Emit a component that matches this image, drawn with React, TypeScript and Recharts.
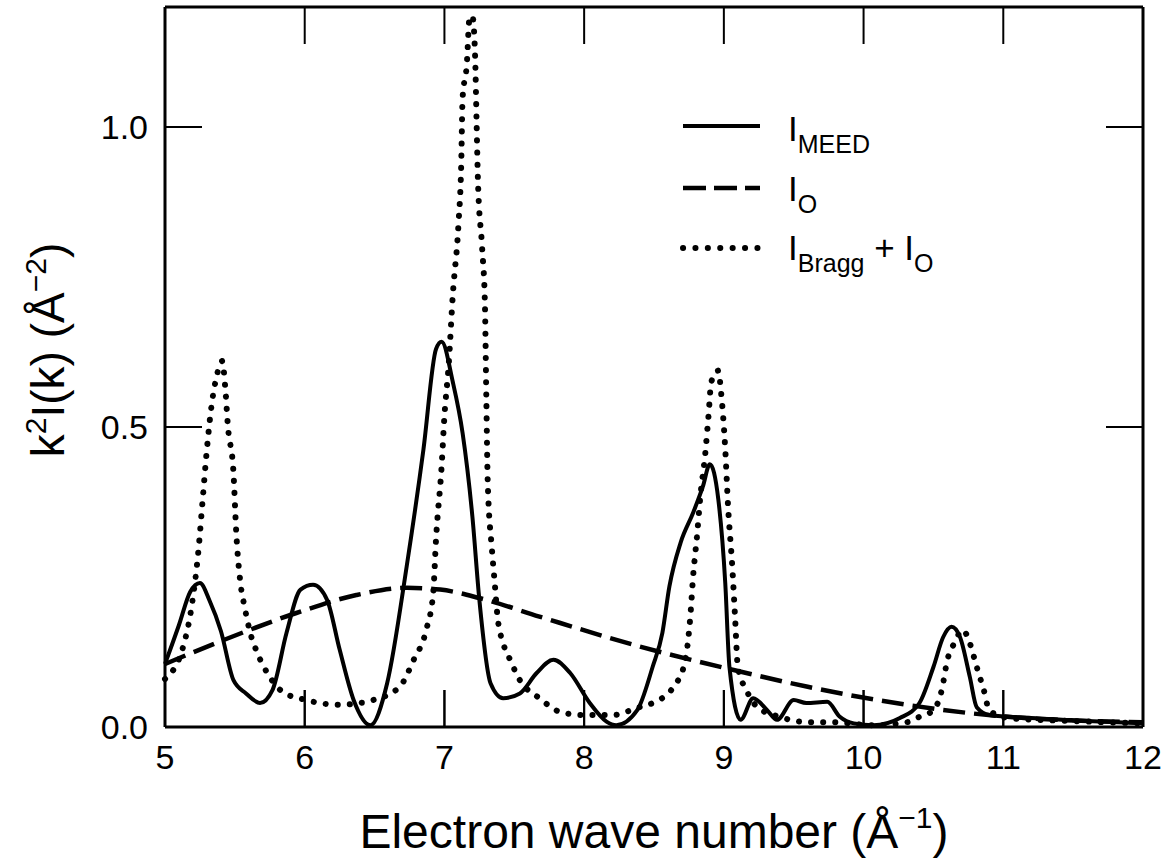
import React from 'react';
import { LineChart, Line, XAxis, YAxis, Legend, ReferenceLine } from 'recharts';

const FONT = '"Liberation Sans", Arial, Helvetica, sans-serif';

// I_MEED (solid)
const meedK = [5.0, 5.1, 5.18, 5.25, 5.32, 5.4, 5.49, 5.58, 5.68, 5.77, 5.87, 5.97, 6.06, 6.16, 6.25, 6.35, 6.47, 6.59, 6.73, 6.85, 6.94, 6.98, 7.06, 7.13, 7.2, 7.25, 7.33, 7.42, 7.54, 7.66, 7.78, 7.9, 8.04, 8.16, 8.23, 8.38, 8.49, 8.56, 8.61, 8.69, 8.78, 8.85, 8.9, 8.96, 9.01, 9.04, 9.12, 9.21, 9.31, 9.38, 9.5, 9.59, 9.74, 9.83, 9.93, 10.07, 10.26, 10.4, 10.5, 10.57, 10.63, 10.69, 10.76, 10.81, 10.9, 11.2, 11.6, 12.0];
const meedI = [0.105, 0.17, 0.225, 0.24, 0.21, 0.16, 0.078, 0.056, 0.04, 0.062, 0.157, 0.229, 0.237, 0.212, 0.129, 0.045, 0.003, 0.073, 0.268, 0.463, 0.63, 0.642, 0.575, 0.49, 0.351, 0.212, 0.073, 0.048, 0.056, 0.09, 0.112, 0.09, 0.04, 0.009, 0.003, 0.028, 0.1, 0.157, 0.234, 0.307, 0.357, 0.401, 0.438, 0.38, 0.24, 0.1, 0.012, 0.048, 0.028, 0.012, 0.045, 0.04, 0.042, 0.017, 0.006, 0.003, 0.015, 0.04, 0.1, 0.15, 0.167, 0.15, 0.084, 0.033, 0.02, 0.015, 0.01, 0.006];

// I_O (dashed)
const oK = [5.0, 5.42, 5.94, 6.37, 6.73, 6.97, 7.25, 7.68, 8.4, 9.07, 9.6, 10.31, 11.03, 11.5, 12.0];
const oI = [0.105, 0.145, 0.19, 0.22, 0.232, 0.229, 0.215, 0.184, 0.134, 0.095, 0.067, 0.037, 0.017, 0.011, 0.008];

// I_Bragg + I_O (dotted)
const braggK = [5.0, 5.13, 5.19, 5.24, 5.27, 5.3, 5.33, 5.37, 5.41, 5.43, 5.45, 5.49, 5.51, 5.54, 5.57, 5.61, 5.66, 5.74, 5.84, 6.01, 6.25, 6.49, 6.68, 6.78, 6.87, 6.92, 6.94, 6.98, 7.0, 7.03, 7.06, 7.1, 7.12, 7.13, 7.16, 7.18, 7.2, 7.22, 7.23, 7.24, 7.27, 7.29, 7.3, 7.31, 7.34, 7.36, 7.38, 7.42, 7.47, 7.54, 7.68, 7.83, 7.99, 8.21, 8.38, 8.49, 8.64, 8.72, 8.76, 8.78, 8.81, 8.83, 8.87, 8.89, 8.91, 8.96, 8.98, 9.01, 9.03, 9.06, 9.08, 9.1, 9.16, 9.24, 9.4, 9.6, 9.78, 10.07, 10.31, 10.4, 10.5, 10.56, 10.6, 10.65, 10.71, 10.76, 10.81, 10.86, 10.9, 11.03, 11.5, 12.0];
const braggI = [0.08, 0.134, 0.2, 0.296, 0.38, 0.463, 0.53, 0.585, 0.61, 0.569, 0.502, 0.424, 0.324, 0.24, 0.2, 0.157, 0.124, 0.087, 0.059, 0.045, 0.037, 0.045, 0.067, 0.112, 0.162, 0.224, 0.313, 0.435, 0.518, 0.602, 0.72, 0.836, 0.936, 1.048, 1.104, 1.182, 1.185, 1.115, 1.01, 0.91, 0.798, 0.703, 0.547, 0.408, 0.296, 0.24, 0.184, 0.14, 0.112, 0.078, 0.048, 0.025, 0.02, 0.02, 0.032, 0.04, 0.067, 0.107, 0.184, 0.251, 0.324, 0.38, 0.463, 0.518, 0.575, 0.594, 0.558, 0.463, 0.368, 0.268, 0.184, 0.1, 0.062, 0.033, 0.017, 0.008, 0.008, 0.003, 0.008, 0.017, 0.028, 0.062, 0.112, 0.14, 0.162, 0.14, 0.1, 0.062, 0.028, 0.015, 0.01, 0.006];

const xTicks = [5, 6, 7, 8, 9, 10, 11, 12];
const yTicks = [0, 0.5, 1.0];
const X_DOMAIN: [number, number] = [5, 12];
const Y_DOMAIN: [number, number] = [0, 1.2];
const seriesNames = ['MEED', 'O', 'Bragg'];

const meedData = meedK.map((k, i) => ({ k, v: meedI[i] }));
const oData = oK.map((k, i) => ({ k, v: oI[i] }));
const braggData = braggK.map((k, i) => ({ k, v: braggI[i] }));

const CHART_W = 1163;
const CHART_H = 865;
const MARGIN_RIGHT = 10;
const LEFT_AXIS_W = 165;
const RIGHT_AXIS_W = 10;
const TOP_AXIS_H = 7;
const BOTTOM_AXIS_H = 138;
const PLOT_W = CHART_W - LEFT_AXIS_W - RIGHT_AXIS_W - MARGIN_RIGHT;
const PLOT_H = CHART_H - TOP_AXIS_H - BOTTOM_AXIS_H;
const TICK_LEN = 37;
// inward tick length expressed in axis units
const TICK_DY = (TICK_LEN / PLOT_H) * (Y_DOMAIN[1] - Y_DOMAIN[0]);
const TICK_DX = (TICK_LEN / PLOT_W) * (X_DOMAIN[1] - X_DOMAIN[0]);

const innerX = xTicks.filter((t) => t > X_DOMAIN[0] && t < X_DOMAIN[1]);
const innerY = yTicks.filter((t) => t > Y_DOMAIN[0] && t < Y_DOMAIN[1]);

const XLabel = (props: any) => {
  const vb = props.viewBox || {};
  const cx = vb.x + vb.width / 2;
  const y = vb.y + 121;
  return (
    <text x={cx} y={y} textAnchor="middle" fontSize={48} fontFamily={FONT} fill="#000">
      Electron wave number (Å
      <tspan dy={-20} fontSize={30}>−1</tspan>
      <tspan dy={20}>)</tspan>
    </text>
  );
};

const YLabel = () => {
  const x = 64;
  const y = 350;
  return (
    <text x={x} y={y} transform={`rotate(-90, ${x}, ${y})`} textAnchor="middle" fontSize={46} fontFamily={FONT} fill="#000">
      k
      <tspan dy={-18} fontSize={30}>2</tspan>
      <tspan dy={18}>I(k) (Å</tspan>
      <tspan dy={-18} fontSize={30}>−2</tspan>
      <tspan dy={18}>)</tspan>
    </text>
  );
};

const LegendContent = () => {
  const rows = [
    { y: 31, base: 46, dash: undefined as string | undefined, w: 4 },
    { y: 93, base: 106, dash: '23 8', w: 4.5 },
    { y: 153, base: 165, dash: '0.1 12.3', w: 6 },
  ];
  return (
    <svg width={320} height={190} style={{ overflow: 'visible' }}>
      {rows.map((r, i) => (
        <line key={i} x1={13} x2={90} y1={r.y} y2={r.y} stroke="#000" strokeWidth={r.w}
          strokeDasharray={r.dash} strokeLinecap={i === 2 ? 'round' : 'butt'} />
      ))}
      <text x={118} y={rows[0].base} fontSize={35} fontFamily={FONT} fill="#000">
        I<tspan dy={12} fontSize={25}>{seriesNames[0]}</tspan>
      </text>
      <text x={118} y={rows[1].base} fontSize={35} fontFamily={FONT} fill="#000">
        I<tspan dy={12} fontSize={25}>{seriesNames[1]}</tspan>
      </text>
      <text x={118} y={rows[2].base} fontSize={35} fontFamily={FONT} fill="#000">
        I<tspan dy={12} fontSize={25}>{seriesNames[2]}</tspan>
        <tspan dy={-12}> + I</tspan>
        <tspan dy={12} fontSize={25}>{seriesNames[1]}</tspan>
      </text>
    </svg>
  );
};

export default function App() {
  return (
    <div style={{ position: 'absolute', left: 0, top: 0, background: '#fff' }}>
      <LineChart width={CHART_W} height={CHART_H} margin={{ top: 0, right: MARGIN_RIGHT, bottom: 0, left: 0 }}>
        <XAxis
          xAxisId="bottom"
          dataKey="k"
          type="number"
          domain={X_DOMAIN}
          ticks={xTicks}
          orientation="bottom"
          height={BOTTOM_AXIS_H}
          tickSize={-TICK_LEN}
          tickMargin={55}
          axisLine={{ stroke: '#000', strokeWidth: 3 }}
          tickLine={{ stroke: '#000', strokeWidth: 2 }}
          tick={{ fontSize: 34, fill: '#000', fontFamily: FONT }}
          interval={0}
          label={<XLabel />}
        />
        <XAxis
          xAxisId="top"
          dataKey="k"
          type="number"
          domain={X_DOMAIN}
          ticks={xTicks}
          orientation="top"
          height={TOP_AXIS_H}
          tickSize={-TICK_LEN}
          tickMargin={0}
          axisLine={{ stroke: '#000', strokeWidth: 3 }}
          tickLine={{ stroke: '#000', strokeWidth: 2 }}
          tickFormatter={() => ''}
          interval={0}
        />
        <YAxis
          yAxisId="left"
          type="number"
          domain={Y_DOMAIN}
          ticks={yTicks}
          width={LEFT_AXIS_W}
          tickSize={-TICK_LEN}
          tickMargin={54}
          axisLine={{ stroke: '#000', strokeWidth: 3 }}
          tickLine={{ stroke: '#000', strokeWidth: 2 }}
          tick={{ fontSize: 34, fill: '#000', fontFamily: FONT }}
          tickFormatter={(v: number) => v.toFixed(1)}
          interval={0}
          label={<YLabel />}
        />
        <YAxis
          yAxisId="right"
          orientation="right"
          type="number"
          domain={Y_DOMAIN}
          ticks={yTicks}
          width={RIGHT_AXIS_W}
          tickSize={-TICK_LEN}
          tickMargin={0}
          axisLine={{ stroke: '#000', strokeWidth: 3 }}
          tickLine={{ stroke: '#000', strokeWidth: 2 }}
          tickFormatter={() => ''}
          interval={0}
        />
        <Legend
          layout="horizontal"
          verticalAlign="middle"
          align="center"
          content={<LegendContent />}
          wrapperStyle={{ left: 670, top: 95, width: 320, height: 190 }}
        />
        {innerX.map((t) => (
          <ReferenceLine key={`tb-${t}`} xAxisId="bottom" yAxisId="left" ifOverflow="visible"
            segment={[{ x: t, y: Y_DOMAIN[0] }, { x: t, y: Y_DOMAIN[0] + TICK_DY }]}
            stroke="#000" strokeWidth={2} />
        ))}
        {innerX.map((t) => (
          <ReferenceLine key={`tt-${t}`} xAxisId="bottom" yAxisId="left" ifOverflow="visible"
            segment={[{ x: t, y: Y_DOMAIN[1] }, { x: t, y: Y_DOMAIN[1] - TICK_DY }]}
            stroke="#000" strokeWidth={2} />
        ))}
        {innerY.map((t) => (
          <ReferenceLine key={`tr-${t}`} xAxisId="bottom" yAxisId="left" ifOverflow="visible"
            segment={[{ x: X_DOMAIN[1], y: t }, { x: X_DOMAIN[1] - TICK_DX, y: t }]}
            stroke="#000" strokeWidth={2} />
        ))}
        <Line xAxisId="bottom" yAxisId="left" data={oData} dataKey="v" name="O" type="monotone"
          stroke="#000" strokeWidth={4.5} strokeDasharray="22 9" dot={false} isAnimationActive={false} />
        <Line xAxisId="bottom" yAxisId="left" data={braggData} dataKey="v" name="Bragg" type="monotone"
          stroke="#000" strokeWidth={6} strokeDasharray="0.1 12" strokeLinecap="round" dot={false} isAnimationActive={false} />
        <Line xAxisId="bottom" yAxisId="left" data={meedData} dataKey="v" name="MEED" type="monotone"
          stroke="#000" strokeWidth={4} dot={false} isAnimationActive={false} />
      </LineChart>
    </div>
  );
}
